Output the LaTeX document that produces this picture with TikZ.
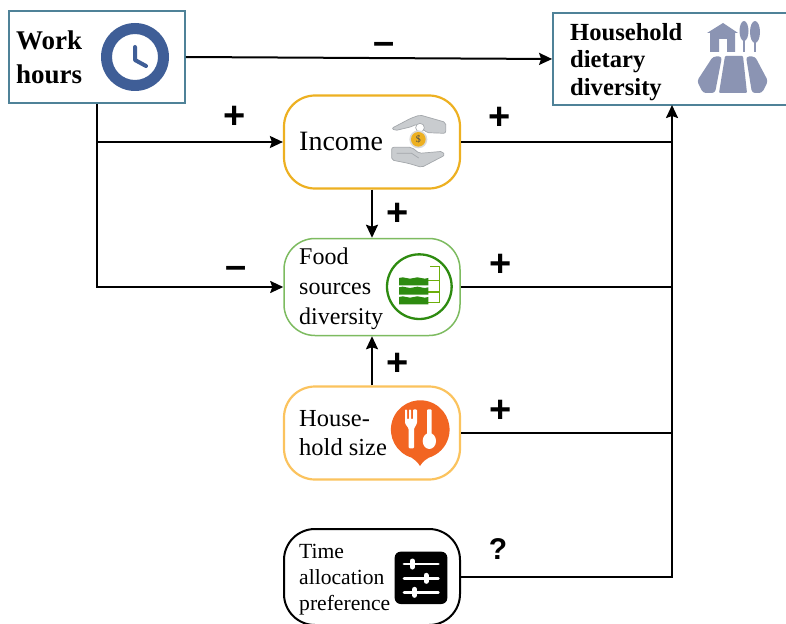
\documentclass[tikz,border=0pt]{standalone}
\usepackage{fontspec}
\setmainfont{Liberation Serif}
\newfontfamily\signfont{Liberation Sans}
\usetikzlibrary{arrows.meta}
\definecolor{boxblue}{HTML}{4F8298}
\definecolor{clockblue}{HTML}{3F5E97}
\definecolor{farmblue}{HTML}{8B94B3}
\definecolor{incomegold}{HTML}{EDB021}
\definecolor{foodgreen}{HTML}{7DBB60}
\definecolor{icongreen}{HTML}{2E8B10}
\definecolor{housegold}{HTML}{FBC35E}
\definecolor{forkorange}{HTML}{F26522}
\definecolor{handgrey}{HTML}{C9CCCF}
\definecolor{handedge}{HTML}{A3A7AB}
\tikzset{
  x=1pt,y=-1pt,
  squarebox/.style={draw=boxblue,line width=1.8pt,fill=white,rectangle,inner sep=0pt},
  pillbox/.style={rectangle,rounded corners=31pt,fill=white,inner sep=0pt,minimum width=176pt,minimum height=93pt},
  textlabel/.style={anchor=west,align=left,inner sep=0pt},
  sign/.style={inner sep=0pt,font=\signfont\bfseries\fontsize{38}{38}\selectfont},
  link/.style={line width=2pt,black},
  arrowlink/.style={link,-{Stealth[length=13pt,width=12pt,inset=2pt]}},
  zoomA/.style={shift={(280,90)},scale=1/3},
  zoomB/.style={shift={(280,380)},scale=1/3},
}
\begin{document}
\begin{tikzpicture}
\useasboundingbox (0,0) rectangle (786,623);
\clip (0,0) rectangle (786,623);
% boxes
\node[squarebox,minimum width=176pt,minimum height=92pt] (work) at (97,57) {};
\node[squarebox,minimum width=238pt,minimum height=92pt] (house) at (672,59) {};
\node[pillbox,draw=incomegold,line width=2.2pt] (income) at (372,142) {};
\node[pillbox,draw=foodgreen,line width=1.5pt,minimum height=97pt] (food) at (372,287) {};
\node[pillbox,draw=housegold,line width=2.2pt] (size) at (372,433) {};
\node[pillbox,draw=black,line width=2pt,minimum height=96pt] (time) at (372,577) {};
% labels
\node[textlabel,font=\bfseries\fontsize{27}{34}\selectfont,at={(16,57)}] (worktext) {Work\\hours};
\node[textlabel,font=\bfseries\fontsize{24.6}{27.5}\selectfont,at={(570,62)}] (housetext) {Household\\dietary\\diversity};
\node[textlabel,font=\fontsize{28}{30}\selectfont,at={(299,141)}] (incometext) {Income};
\node[textlabel,font=\fontsize{24}{30}\selectfont,at={(299,289)}] (foodtext) {Food\\sources\\diversity};
\node[textlabel,font=\fontsize{24.5}{29}\selectfont,at={(299,433)}] (sizetext) {House-\\hold size};
\node[textlabel,font=\fontsize{21.6}{26}\selectfont,at={(299,580)}] (timetext) {Time\\allocation\\preference};
% connectors
\coordinate (bus) at (672,105);
\draw[arrowlink] (work.east) -- (house.west);
\draw[arrowlink] (work.south |- income.west) -- (income.west);
\draw[arrowlink] (work.south) |- (food.west);
\draw[arrowlink] (income.south) -- (food.north);
\draw[arrowlink] (size.north) -- (food.south);
\draw[link] (income.east) -- (bus |- income.east);
\draw[link] (food.east) -- (bus |- food.east);
\draw[link] (size.east) -- (bus |- size.east);
\draw[arrowlink] (time.east) -| (bus);
% signs
\node[sign] (s1) at (384,48) {–};
\node[sign] (s2) at (235,117) {+};
\node[sign] (s3) at (500,118) {+};
\node[sign] (s4) at (398,214) {+};
\node[sign] (s5) at (236,272) {–};
\node[sign] (s6) at (501,265) {+};
\node[sign] (s7) at (398,364) {+};
\node[sign] (s8) at (501,411) {+};
\node[sign,font=\signfont\bfseries\fontsize{30}{30}\selectfont] (s9) at (498,549) {?};
% clock icon
\fill[clockblue,even odd rule] (135,57) circle[radius=34] (135,57) circle[radius=23];
\draw[clockblue,line width=4pt,line cap=round,line join=round] (135,47) -- (135,60) -- (146,66);
% household icon
\fill[farmblue] (707,33) -- (723,23) -- (738,33) -- (735,33) -- (735,52) -- (727,52) -- (727,39) -- (719,39) -- (719,52) -- (710,52) -- (710,33) -- cycle;
\fill[farmblue] (744,31) ellipse[x radius=4.5,y radius=10];
\fill[farmblue] (755,32) ellipse[x radius=5,y radius=11];
\draw[farmblue,line width=1.5pt] (744,35) -- (744,52) (755,35) -- (755,52);
\fill[farmblue,rounded corners=3pt] (713,56.5) -- (722,56.5) -- (715,93) -- (703,93) -- (697,81) -- cycle;
\fill[farmblue,rounded corners=1pt] (725,56) -- (743,56) -- (747,93) -- (719,93) -- cycle;
\fill[farmblue,rounded corners=3pt] (746,56.5) -- (755,56.5) -- (768,81) -- (762,93) -- (752,93) -- cycle;
% income icon
\begin{scope}[zoomA]
\draw[handedge,fill=handgrey,line width=.7pt,rounded corners=2pt] (335,115) -- (392,85) -- (420,75) -- (497,97) -- (497,130) -- (440,128) -- (430,118) -- (410,102) -- (395,110) -- (345,122) -- cycle;
\draw[handedge,fill=white,line width=.7pt] (420,113) circle[radius=13];
\draw[handedge,fill=handgrey,line width=.7pt,rounded corners=2pt] (335,172) -- (395,172) -- (418,190) -- (488,184) -- (494,196) -- (425,232) -- (385,220) -- (335,210) -- cycle;
\draw[handedge,line width=.7pt] (350,190) -- (395,190) -- (416,204);
\fill[white!85!black] (415,148) circle[radius=27];
\fill[incomegold] (415,148) circle[radius=22];
\node[inner sep=0pt,font=\fontsize{10}{10}\selectfont,text=black!70] (coin) at (415,148) {\$};
\end{scope}
% food sources icon
\begin{scope}[zoomA]
\draw[icongreen,line width=2.3pt] (418,590) circle[radius=97];
\draw[icongreen!70!yellow,line width=1.5pt] (450,530) -- (478,530) -- (478,638) -- (445,638) (445,572) -- (478,572) (445,606) -- (478,606);
\foreach \ya/\yb in {564/586,592/614,621/643}{
  \fill[icongreen] (357,\ya) sin (368,\ya-2) cos (379,\ya) sin (390,\ya+2) cos (401,\ya) sin (412,\ya-2) cos (423,\ya) sin (434,\ya+2) cos (445,\ya) -- (445,\yb) -- (357,\yb) -- cycle;
}
\end{scope}
% fork and spoon icon
\begin{scope}[zoomB]
\fill[forkorange] (420,258) .. controls (412,245) and (405,240) .. (395,233) arc[start angle=107,end angle=433,radius=88] .. controls (435,240) and (428,245) .. (420,258) -- cycle;
\fill[white,rounded corners=1pt] (375,88) -- (381,88) -- (381,118) -- (387,118) -- (387,88) -- (393,88) -- (393,118) -- (399,118) -- (399,88) -- (411,88) -- (411,130) -- (402,146) -- (402,205) -- (386,205) -- (386,146) -- (375,130) -- cycle;
\fill[white,rounded corners=1pt] (441,88) rectangle (455,170);
\fill[white] (448,183) ellipse[x radius=20,y radius=24];
\end{scope}
% sliders icon
\begin{scope}[zoomB]
\fill[black,rounded corners=6pt] (344,515) rectangle (502,672);
\draw[white,line width=2.8pt,line cap=round] (372,552) -- (475,552) (372,595) -- (475,595) (372,637) -- (475,637);
\draw[white,line width=5pt,line cap=round] (397,543) -- (397,561) (438,586) -- (438,604) (404,628) -- (404,646);
\end{scope}
\end{tikzpicture}
\end{document}
